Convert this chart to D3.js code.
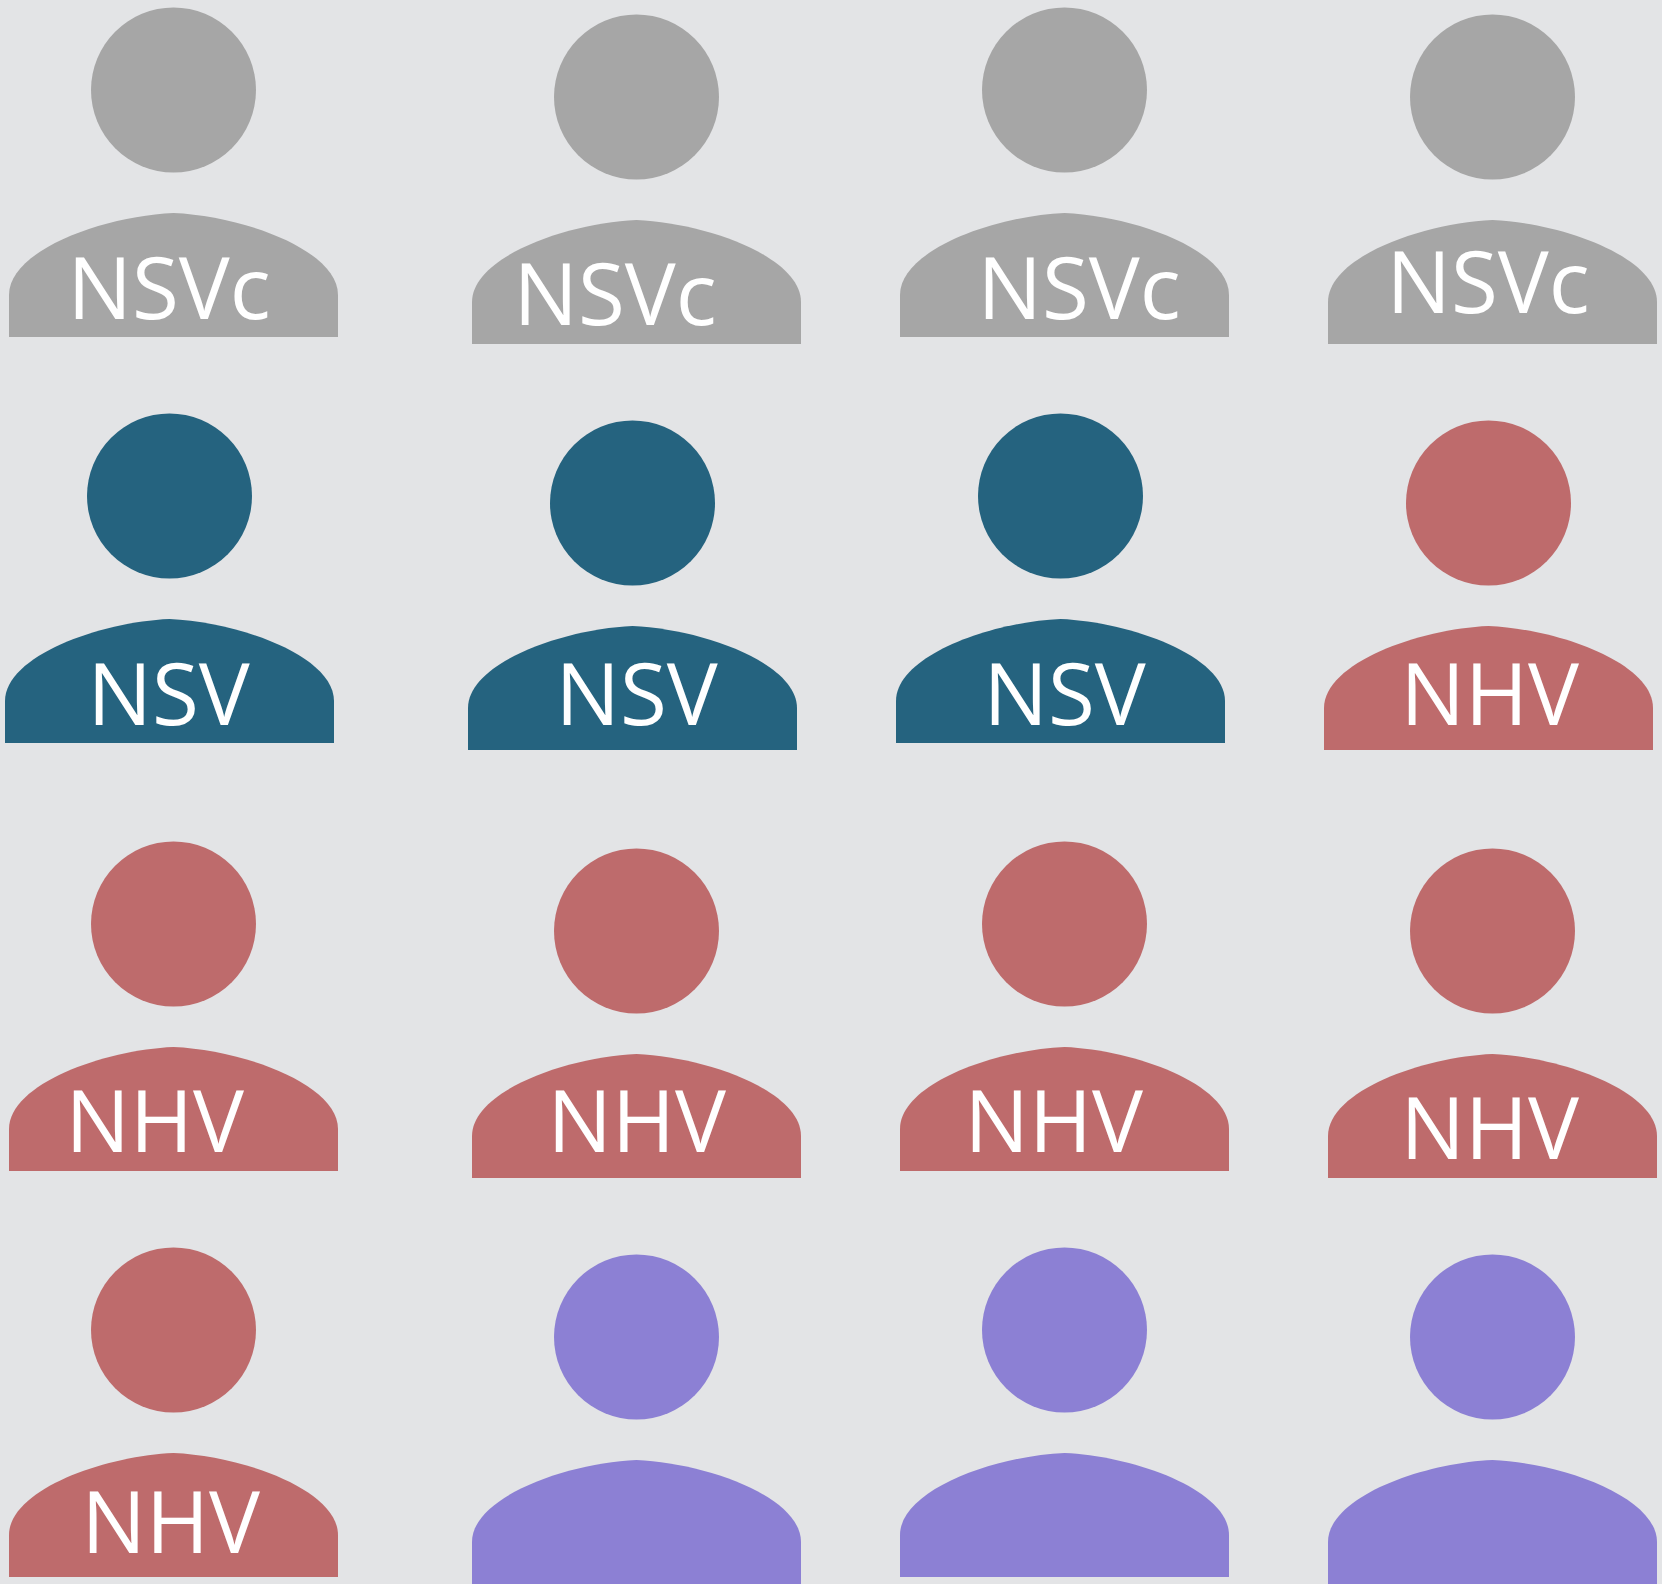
<!DOCTYPE html>
<html>
<head>
<meta charset="utf-8">
<script src="https://cdnjs.cloudflare.com/ajax/libs/d3/7.8.5/d3.min.js"></script>
<style>
html, body { margin: 0; padding: 0; background: #e3e4e6; overflow: hidden; }
svg { display: block; }
</style>
</head>
<body>
<svg id="chart"></svg>
<script>
// who is who, one array per row of the grid
var rowA = ["NSVc", "NSVc", "NSVc", "NSVc"];
var rowB = ["NSV", "NSV", "NSV", "NHV"];
var rowC = ["NHV", "NHV", "NHV", "NHV"];
var rowD = ["NHV", "none", "none", "none"];
var groups = ["NSVc", "NSV", "NHV", "none"];
var groupColors = ["#a6a6a6", "#25637f", "#be6b6c", "#8c80d4"];
var columns = [0, 1, 2, 3];
var rows = [0, 1, 2, 3];

var width = 1662, height = 1584;

var color = d3.scaleOrdinal().domain(groups).range(groupColors);
var x = d3.scaleOrdinal().domain(columns).range([173.5, 636.5, 1064.5, 1492.5]);
var y = d3.scaleOrdinal().domain(rows).range([90, 496, 924, 1330]);
// even columns sit a bit lower, second row a bit to the left
var colDrop = d3.scaleOrdinal().domain(columns).range([0, 7, 0, 7]);
var rowShift = d3.scaleOrdinal().domain(rows).range([0, -4, 0, 0]);

// label nudges, row by row
var labelDx = [[-106, -123, -87, -106], [-82, -77, -77, -88], [-108, -89, -100, -92], [-92, 0, 0, 0]];
var labelDy = [[229, 228, 229, 216], [229, 222, 229, 222], [228, 221, 228, 228], [223, 0, 0, 0]];

var cells = [];
[rowA, rowB, rowC, rowD].forEach(function (row, r) {
    row.forEach(function (g, c) {
        cells.push({ row: r, col: c, group: g });
    });
});

var svg = d3.select("#chart").attr("width", width).attr("height", height);
svg.append("rect").attr("width", width).attr("height", height).attr("fill", "#e3e4e6");

function bodyPath() {
    var p = d3.path();
    p.moveTo(-164.5, 247);
    p.lineTo(-164.5, 205);
    p.bezierCurveTo(-164.5, 160, -70, 126, 0, 123);
    p.bezierCurveTo(70, 126, 164.5, 160, 164.5, 205);
    p.lineTo(164.5, 247);
    p.closePath();
    return p.toString();
}

var person = svg.selectAll(".person")
    .data(cells)
    .enter()
    .append("g")
    .attr("class", "person")
    .attr("transform", function (d) {
        return "translate(" + (x(d.col) + rowShift(d.row)) + "," + (y(d.row) + colDrop(d.col)) + ")";
    });

person.append("circle")
    .attr("r", 82.5)
    .attr("fill", function (d) { return color(d.group); });

person.append("path")
    .attr("d", bodyPath())
    .attr("fill", function (d) { return color(d.group); });

person.filter(function (d) { return d.group != "none"; })
    .append("text")
    .attr("x", function (d) { return labelDx[d.row][d.col]; })
    .attr("y", function (d) { return labelDy[d.row][d.col]; })
    .attr("fill", "#ffffff")
    .style("font-family", "'Open Sans'")
    .style("font-size", "85.5px")
    .text(function (d) { return d.group; });
</script>
</body>
</html>
